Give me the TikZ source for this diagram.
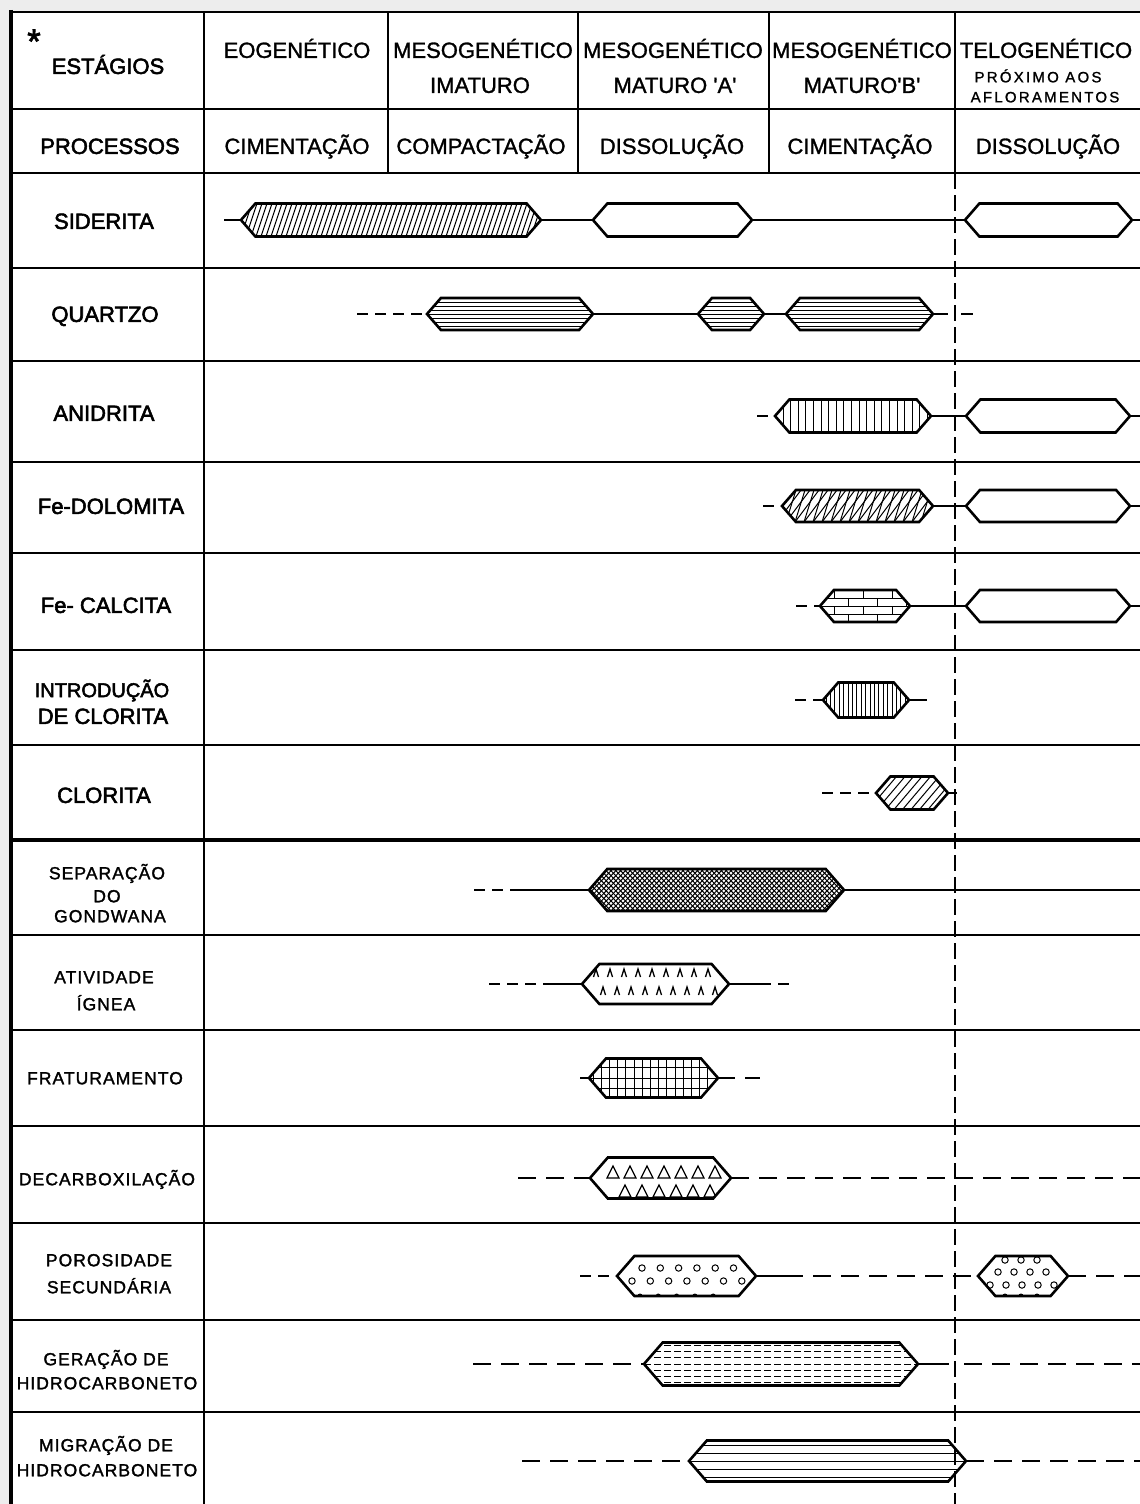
\documentclass[tikz,border=0pt]{standalone}
\usepackage{fontspec}
\setmainfont{Liberation Sans}
\newfontfamily\hfont[FakeBold=1.3]{Liberation Sans}
\newfontfamily\lfont[FakeBold=2.5]{Liberation Sans}
\newfontfamily\lowfont[LetterSpace=6,FakeBold=1.6]{Liberation Sans}
\newfontfamily\telfont[LetterSpace=15,FakeBold=1.2]{Liberation Sans}

\newcommand\hexbar[6]{%
  \coordinate (#1-w) at (#2,#4);
  \coordinate (#1-e) at (#3,#4);
  \pgfmathsetmacro\hexd{0.87*#5}%
  \def\pL{#2}\def\pR{#3}\def\pY{#4}\def\pH{#5}%
  \begin{scope}
    \clip (#2,#4) -- ({#2+\hexd},{#4-#5}) -- ({#3-\hexd},{#4-#5}) -- (#3,#4) -- ({#3-\hexd},{#4+#5}) -- ({#2+\hexd},{#4+#5}) -- cycle;
    #6
  \end{scope}
  \draw[barl] (#2,#4) -- ({#2+\hexd},{#4-#5}) -- ({#3-\hexd},{#4-#5}) -- (#3,#4) -- ({#3-\hexd},{#4+#5}) -- ({#2+\hexd},{#4+#5}) -- cycle;
}
\newcommand\pdiag[2]{%
  \pgfmathtruncatemacro\pN{(\pR-\pL+100)/#1}%
  \foreach \k in {0,...,\pN} \draw[patl] ({\pL-50+\k*#1},{\pY+\pH}) -- ++(#2,{-2*\pH});
}
\newcommand\phoriz[3]{%
  \foreach \k in {#2,...,#3} \draw[patl] (\pL,{\pY+\k*#1}) -- (\pR,{\pY+\k*#1});
}
\newcommand\pvert[2]{%
  \pgfmathtruncatemacro\pN{(\pR-#1)/#2}%
  \foreach \k in {0,...,\pN} \draw[patl] ({#1+\k*#2},{\pY-\pH}) -- ++(0,{2*\pH});
}

\begin{document}
\begin{tikzpicture}[x=1pt,y=-1pt,
  gridl/.style={line width=2pt},
  patl/.style={line width=1pt},
  barl/.style={line width=2.6pt, line join=miter},
  con/.style={line width=1.6pt},
  dsh/.style={line width=1.6pt, dash pattern=on 18pt off 10pt},
  dshs/.style={line width=1.6pt, dash pattern=on 11pt off 7pt},
  hdr/.style={font=\hfont\fontsize{22}{24}\selectfont, text height=15.8pt, text depth=0pt, inner sep=0pt},
  lab/.style={font=\lfont\fontsize{22}{24}\selectfont, text height=15.8pt, text depth=0pt, inner sep=0pt},
  low/.style={font=\lowfont\fontsize{17.5}{20}\selectfont, text height=12.5pt, text depth=0pt, inner sep=0pt},
  tel/.style={font=\telfont\fontsize{15}{17}\selectfont, text height=10.7pt, text depth=0pt, inner sep=0pt}]
\useasboundingbox (0,0) rectangle (1140,1504);
\fill[gray!14] (0,0) rectangle (1140,1504);
\fill[white] (9,12) rectangle (1140,1504);

% ---------- grid ----------
\draw[line width=2.5pt] (9,12) -- (1140,12);
\foreach \yy in {109,173,268,361,462,553,650,745,935,1030,1126,1223,1320,1412}
  \draw[gridl] (11,\yy) -- (1140,\yy);
\draw[line width=3.5pt] (11,840) -- (1140,840);
\draw[line width=4pt] (11,10) -- (11,1504);
\draw[gridl] (204,12) -- (204,1504);
\foreach \xx in {388,578,769,955} \draw[gridl] (\xx,12) -- (\xx,173);
\draw[line width=1.6pt, dash pattern=on 16pt off 6pt] (955,173) -- (955,1504);

% ---------- header texts ----------
\node[font=\lfont\fontsize{34}{34}\selectfont, anchor=base, inner sep=0pt] (star) at (34,53) {*};
\node[lab] (est) at (108,66) {ESTÁGIOS};
\node[hdr] (h1) at (297,50) {EOGENÉTICO};
\node[hdr] (h2a) at (483,50) {MESOGENÉTICO};
\node[hdr] (h2b) at (480,85) {IMATURO};
\node[hdr] (h3a) at (673,50) {MESOGENÉTICO};
\node[hdr] (h3b) at (675,85) {MATURO 'A'};
\node[hdr] (h4a) at (862,50) {MESOGENÉTICO};
\node[hdr] (h4b) at (862,85) {MATURO'B'};
\node[hdr] (h5a) at (1046,50) {TELOGENÉTICO};
\node[tel] (h5b) at (1038,77) {PRÓXIMO AOS};
\node[tel] (h5c) at (1045,97) {AFLORAMENTOS};

\node[lab] (proc) at (110,146) {PROCESSOS};
\node[hdr] (p1) at (297,146) {CIMENTAÇÃO};
\node[hdr] (p2) at (481,146) {COMPACTAÇÃO};
\node[hdr] (p3) at (672,146) {DISSOLUÇÃO};
\node[hdr] (p4) at (860,146) {CIMENTAÇÃO};
\node[hdr] (p5) at (1048,146) {DISSOLUÇÃO};

% ---------- row labels ----------
\node[lab] (lsid) at (104,221) {SIDERITA};
\node[lab] (lqtz) at (105,314) {QUARTZO};
\node[lab] (lani) at (104,413) {ANIDRITA};
\node[lab] (ldol) at (111,506) {Fe-DOLOMITA};
\node[lab] (lcal) at (106,605) {Fe- CALCITA};
\node[lab, font=\lfont\fontsize{20}{22}\selectfont, text height=14.3pt] (lint1) at (102,690) {INTRODUÇÃO};
\node[lab] (lint2) at (103,716) {DE CLORITA};
\node[lab] (lclo) at (104,795) {CLORITA};

\node[low] (lsep1) at (107,873) {SEPARAÇÃO};
\node[low] (lsep2) at (107,896) {DO};
\node[low] (lsep3) at (110,916) {GONDWANA};
\node[low] (lign1) at (104,977) {ATIVIDADE};
\node[low] (lign2) at (106,1004) {ÍGNEA};
\node[low] (lfra) at (105,1078) {FRATURAMENTO};
\node[low] (ldec) at (107,1179) {DECARBOXILAÇÃO};
\node[low] (lpor1) at (109,1260) {POROSIDADE};
\node[low] (lpor2) at (109,1287) {SECUNDÁRIA};
\node[low] (lger1) at (106,1359) {GERAÇÃO DE};
\node[low] (lger2) at (107,1383) {HIDROCARBONETO};
\node[low] (lmig1) at (106,1445) {MIGRAÇÃO DE};
\node[low] (lmig2) at (107,1470) {HIDROCARBONETO};

% ---------- SIDERITA ----------
\coordinate (s0) at (224,220); \coordinate (s9) at (1140,220);
\hexbar{S1}{241}{541}{220}{16.5}{\pdiag{5}{11}}
\hexbar{S2}{593}{752}{220}{16.5}{}
\hexbar{S3}{965}{1132}{220}{16.5}{}
\draw[con] (s0) -- (S1-w) (S1-e) -- (S2-w) (S2-e) -- (S3-w) (S3-e) -- (s9);

% ---------- QUARTZO ----------
\coordinate (q0) at (357,314); \coordinate (q8) at (948,314);
\coordinate (q9a) at (961,314); \coordinate (q9b) at (973,314);
\hexbar{Q1}{427}{593}{314}{16}{\phoriz{4}{-4}{4}}
\hexbar{Q2}{698}{764}{314}{16}{\phoriz{4}{-4}{4}}
\hexbar{Q3}{786}{933}{314}{16}{\phoriz{4}{-4}{4}}
\draw[dshs] (q0) -- (Q1-w);
\draw[con] (Q1-e) -- (Q2-w) (Q2-e) -- (Q3-w) (Q3-e) -- (q8) (q9a) -- (q9b);

% ---------- ANIDRITA ----------
\coordinate (a0) at (757,416); \coordinate (a9) at (1140,416);
\hexbar{A1}{775}{931}{416}{16.5}{\pvert{783}{7.6}}
\hexbar{A2}{966}{1130}{416}{16.5}{}
\draw[dshs] (a0) -- (A1-w);
\draw[con] (A1-e) -- (A2-w) (A2-e) -- (a9);

% ---------- Fe-DOLOMITA ----------
\coordinate (d0) at (763,506); \coordinate (d9) at (1140,506);
\hexbar{D1}{782}{933}{506}{16}{\pdiag{9}{10}\pdiag{9}{24}}
\hexbar{D2}{966}{1130}{506}{16}{}
\draw[dshs] (d0) -- (D1-w);
\draw[con] (D1-e) -- (D2-w) (D2-e) -- (d9);

% ---------- Fe-CALCITA ----------
\coordinate (c0) at (796,606); \coordinate (c9) at (1140,606);
\hexbar{C1}{820}{910}{606}{16}{%
  \foreach \k in {-1,0,1} \draw[patl] (\pL,{606+8*\k}) -- (\pR,{606+8*\k});
  \foreach \r/\xo in {0/834,1/848,2/834,3/848}
    \foreach \k in {0,1,2} \draw[patl] ({\xo+29*\k},{590+8*\r}) -- ++(0,8);}
\hexbar{C2}{966}{1130}{606}{16}{}
\draw[dshs] (c0) -- (C1-w);
\draw[con] (C1-e) -- (C2-w) (C2-e) -- (c9);

% ---------- INTRODUCAO DE CLORITA ----------
\coordinate (i0) at (795,700); \coordinate (i9) at (927,700);
\hexbar{I1}{823}{909}{700}{17.5}{\pvert{826}{4.4}}
\draw[dshs] (i0) -- (I1-w);
\draw[con] (I1-e) -- (i9);

% ---------- CLORITA ----------
\coordinate (k0) at (822,793); \coordinate (k9) at (957,793);
\hexbar{K1}{876}{948}{793}{16.5}{\pdiag{8.5}{28}}
\draw[dshs] (k0) -- (K1-w);
\draw[con] (K1-e) -- (k9);

% ---------- SEPARACAO DO GONDWANA ----------
\coordinate (g0) at (474,890); \coordinate (g1) at (516,890); \coordinate (g9) at (1140,890);
\hexbar{G1}{589}{844}{890}{21}{\pdiag{4.8}{40}\pdiag{4.8}{-40}}
\draw[dshs] (g0) -- (g1);
\draw[con] (g1) -- (G1-w) (G1-e) -- (g9);

% ---------- ATIVIDADE IGNEA ----------
\coordinate (n0) at (489,984); \coordinate (n1) at (553,984);
\coordinate (n2) at (760,984); \coordinate (n3) at (796,984);
\hexbar{N1}{582}{729}{984}{20}{%
  \foreach \k in {0,...,8} {
    \draw[line width=1.3pt] ({596+14*\k-2.5},977) -- ({596+14*\k},969) -- ({596+14*\k+2.5},977);
    \draw[line width=1.3pt] ({603+14*\k-2.5},995) -- ({603+14*\k},987) -- ({603+14*\k+2.5},995);}}
\draw[dshs] (n0) -- (n1);
\draw[con] (n1) -- (N1-w) (N1-e) -- (n2);
\draw[dshs] (n2) -- (n3);

% ---------- FRATURAMENTO ----------
\coordinate (f0) at (580,1078); \coordinate (f1) at (735,1078);
\coordinate (f1b) at (745,1078); \coordinate (f2) at (760,1078);
\hexbar{F1}{589}{718}{1078}{19.5}{\pvert{593}{8.2}\phoriz{10.3}{-1}{1}}
\draw[con] (f0) -- (F1-w) (F1-e) -- (f1);
\draw[con] (f1b) -- (f2);

% ---------- DECARBOXILACAO ----------
\coordinate (x0) at (518,1178); \coordinate (x9) at (1140,1178);
\hexbar{X1}{590}{731}{1178}{20.5}{%
  \foreach \k in {0,...,6} \draw[line width=1.2pt] ({613+17*\k-6},1178) -- ++(6,-12) -- ++(6,12) -- cycle;
  \foreach \k in {0,...,5} \draw[line width=1.2pt] ({625+17*\k-6},1197) -- ++(6,-12) -- ++(6,12) -- cycle;}
\draw[dsh] (x0) -- (X1-w);
\draw[dsh] (X1-e) -- (x9);

% ---------- POROSIDADE SECUNDARIA ----------
\coordinate (p0) at (580,1276); \coordinate (p1) at (785,1276); \coordinate (p9) at (1140,1276);
\hexbar{P1}{617}{756}{1276}{20}{%
  \foreach \k in {0,...,5} \draw[patl] ({642+18.3*\k},1268) circle[radius=3.2pt];
  \foreach \k in {0,...,6} \draw[patl] ({632+18.3*\k},1281) circle[radius=3.2pt];
  \foreach \k in {0,...,4} \fill ({640+18.3*\k},1296) circle[radius=2.5pt];}
\hexbar{P2}{978}{1068}{1276}{20}{%
  \foreach \xx in {1005,1021,1037} \draw[patl] (\xx,1260) circle[radius=3.2pt];
  \foreach \xx in {998,1014,1030,1046} \draw[patl] (\xx,1272) circle[radius=3.2pt];
  \foreach \xx in {990,1006,1022,1038,1054} \draw[patl] (\xx,1285) circle[radius=3.2pt];
  \foreach \xx in {1005,1021,1037} \fill (\xx,1296) circle[radius=2.5pt];}
\draw[dshs] (p0) -- (P1-w);
\draw[con] (P1-e) -- (p1);
\draw[dsh] (p1) -- (P2-w);
\draw[dsh] (P2-e) -- (p9);

% ---------- GERACAO DE HIDROCARBONETO ----------
\coordinate (h0) at (473,1364); \coordinate (h1) at (949,1364);
\coordinate (h2) at (964,1364); \coordinate (h9) at (1140,1364);
\hexbar{H1}{644}{918}{1364}{21.5}{%
  \foreach \k in {-3,...,3} \draw[patl, dash pattern=on 7pt off 3pt] (\pL,{1364+6.3*\k}) -- (\pR,{1364+6.3*\k});}
\draw[dsh] (h0) -- (H1-w);
\draw[con] (H1-e) -- (h1);
\draw[dsh] (h2) -- (h9);

% ---------- MIGRACAO DE HIDROCARBONETO ----------
\coordinate (m0) at (522,1461); \coordinate (m9) at (1140,1461);
\hexbar{M1}{689}{966}{1461}{20.5}{\phoriz{8}{-2}{2}}
\draw[dsh] (m0) -- (M1-w);
\draw[dsh] (M1-e) -- (m9);
\end{tikzpicture}
\end{document}
